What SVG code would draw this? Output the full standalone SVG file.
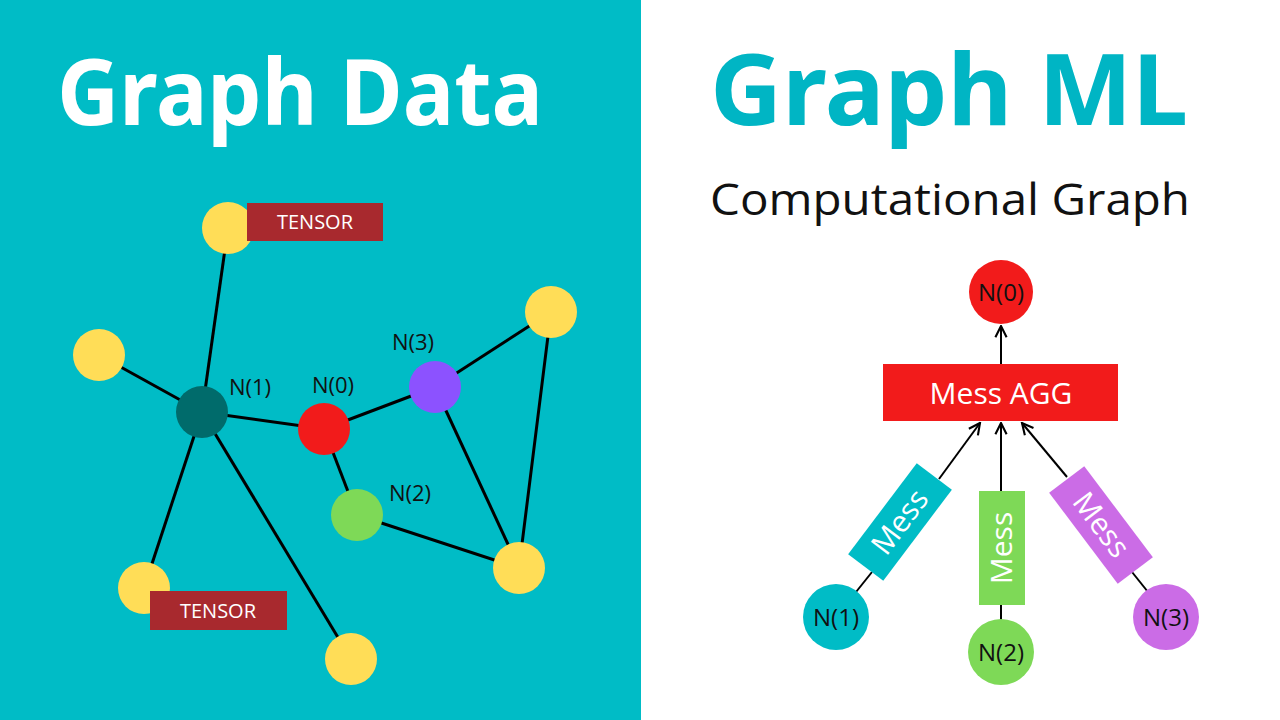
<svg xmlns="http://www.w3.org/2000/svg" width="1280" height="720" viewBox="0 0 1280 720">
<defs>
<marker id="ah" viewBox="0 0 10 10" refX="9" refY="5" markerWidth="7" markerHeight="7" orient="auto"><path d="M1,1 L9,5 L1,9" fill="none" stroke="#000" stroke-width="1.5"/></marker>
<style>
.e{stroke:#000;stroke-width:3;fill:none}
.a{stroke:#000;stroke-width:2;fill:none;marker-end:url(#ah)}
.y{fill:#FFDD57}
.lb{font-family:"Open Sans","Liberation Sans",sans-serif;font-size:22px;fill:#111}
.t{font-family:"Open Sans","Liberation Sans",sans-serif;font-size:20px;fill:#fff}
.m{font-family:"Open Sans","Liberation Sans",sans-serif;font-size:30px;fill:#fff}
.n{font-family:"Open Sans","Liberation Sans",sans-serif;font-size:24px;fill:#111}
</style>
</defs>
<rect x="0" y="0" width="1280" height="720" fill="#fff"/>
<rect x="0" y="0" width="641" height="720" fill="#00BCC6"/>
<text x="57" y="125" textLength="486" lengthAdjust="spacingAndGlyphs" font-family="'Noto Sans','Open Sans',sans-serif" font-weight="bold" font-size="92" fill="#fff">Graph Data</text>
<text x="710" y="125" textLength="478" lengthAdjust="spacingAndGlyphs" font-family="'Noto Sans','Open Sans',sans-serif" font-weight="bold" font-size="98" fill="#00B5C4">Graph ML</text>
<text x="710" y="215" textLength="480" lengthAdjust="spacingAndGlyphs" font-family="'Open Sans','Liberation Sans',sans-serif" font-size="44" fill="#111">Computational Graph</text>
<g id="connectors">
<line class="e" x1="202" y1="412" x2="228" y2="228"/>
<line class="e" x1="202" y1="412" x2="99" y2="355"/>
<line class="e" x1="202" y1="412" x2="144" y2="588"/>
<line class="e" x1="202" y1="412" x2="351" y2="659"/>
<line class="e" x1="202" y1="412" x2="324" y2="429"/>
<line class="e" x1="324" y1="429" x2="435" y2="387"/>
<line class="e" x1="324" y1="429" x2="357" y2="515"/>
<line class="e" x1="435" y1="387" x2="551" y2="312"/>
<line class="e" x1="435" y1="387" x2="519" y2="568"/>
<line class="e" x1="357" y1="515" x2="519" y2="568"/>
<line class="e" x1="551" y1="312" x2="519" y2="568"/>
<line class="a" x1="1001" y1="364" x2="1001" y2="326"/>
<line class="a" x1="939" y1="479" x2="980" y2="423"/>
<line class="a" x1="1001" y1="492" x2="1001" y2="423"/>
<line class="a" x1="1067" y1="477" x2="1022" y2="423"/>
<line class="e" style="stroke-width:2" x1="856" y1="592" x2="872" y2="572"/>
<line class="e" style="stroke-width:2" x1="1001" y1="605" x2="1001" y2="620"/>
<line class="e" style="stroke-width:2" x1="1148" y1="592" x2="1132" y2="572"/>
</g>
<g id="y1"><circle class="y" cx="228" cy="228" r="26"/></g>
<g id="y2"><circle class="y" cx="99" cy="355" r="26"/></g>
<g id="y3"><circle class="y" cx="551" cy="312" r="26"/></g>
<g id="y4"><circle class="y" cx="144" cy="588" r="26"/></g>
<g id="y5"><circle class="y" cx="519" cy="568" r="26"/></g>
<g id="y6"><circle class="y" cx="351" cy="659" r="26"/></g>
<g id="tensor1"><rect x="247" y="203" width="136" height="38" fill="#A8292E"/><text class="t" x="315" y="229" text-anchor="middle">TENSOR</text></g>
<g id="tensor2"><rect x="150" y="591" width="137" height="39" fill="#A8292E"/><text class="t" x="218" y="618" text-anchor="middle">TENSOR</text></g>
<g id="ln1"><circle cx="202" cy="412" r="26" fill="#006B6B"/><text class="lb" x="250" y="395" text-anchor="middle">N(1)</text></g>
<g id="ln0"><circle cx="324" cy="429" r="26" fill="#F21B1B"/><text class="lb" x="333" y="393" text-anchor="middle">N(0)</text></g>
<g id="ln3"><circle cx="435" cy="387" r="26" fill="#8C52FF"/><text class="lb" x="413" y="350" text-anchor="middle">N(3)</text></g>
<g id="ln2"><circle cx="357" cy="515" r="26" fill="#7ED957"/><text class="lb" x="410" y="501" text-anchor="middle">N(2)</text></g>
<g id="rn0"><circle cx="1001" cy="292" r="32" fill="#F21B1B"/><text class="n" x="1001" y="301" text-anchor="middle">N(0)</text></g>
<g id="agg"><rect x="883" y="364" width="235" height="57" fill="#F21B1B"/><text class="m" x="1001" y="404" text-anchor="middle">Mess AGG</text></g>
<g id="mess1" transform="translate(900,522) rotate(-53)"><rect x="-57" y="-22" width="114" height="44" fill="#00BCC6"/><text class="m" x="0" y="10" text-anchor="middle">Mess</text></g>
<g id="mess2" transform="translate(1002,548) rotate(-90)"><rect x="-57" y="-23" width="114" height="46" fill="#7ED957"/><text class="m" x="0" y="10" text-anchor="middle">Mess</text></g>
<g id="mess3" transform="translate(1101,525) rotate(53)"><rect x="-57" y="-22" width="114" height="44" fill="#CB6CE6"/><text class="m" x="0" y="10" text-anchor="middle">Mess</text></g>
<g id="rn1"><circle cx="836" cy="617" r="33" fill="#00BCC6"/><text class="n" x="836" y="626" text-anchor="middle">N(1)</text></g>
<g id="rn2"><circle cx="1001" cy="652" r="33" fill="#7ED957"/><text class="n" x="1001" y="661" text-anchor="middle">N(2)</text></g>
<g id="rn3"><circle cx="1166" cy="617" r="33" fill="#CB6CE6"/><text class="n" x="1166" y="626" text-anchor="middle">N(3)</text></g>
</svg>
